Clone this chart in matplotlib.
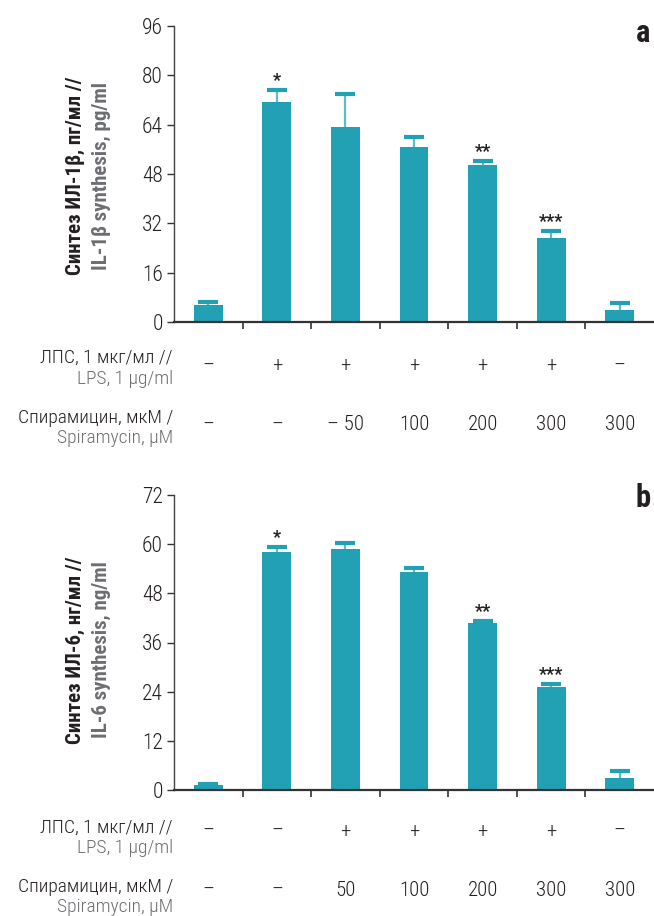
import matplotlib
matplotlib.use("Agg")
import matplotlib.pyplot as plt
import matplotlib.transforms as mtransforms
from matplotlib import font_manager
import numpy as np

# ---------------- data ----------------
groups = [1, 2, 3, 4, 5, 6, 7]
il1b_values = [5.5, 71.3, 63.2, 56.8, 50.9, 27.2, 3.9]
il1b_err = [1.1, 3.9, 10.6, 3.1, 1.2, 2.2, 2.2]
il6_values = [1.2, 58.1, 58.8, 53.2, 40.8, 25.1, 2.9]
il6_err = [0.3, 1.3, 1.4, 1.1, 0.4, 0.7, 1.7]

il1b_stars = ["", "*", "", "", "**", "***", ""]
il6_stars = ["", "*", "", "", "**", "***", ""]

top_lps = ["–", "+", "+", "+", "+", "+", "–"]
top_spi = ["–", "–", "– 50", "100", "200", "300", "300"]
bot_lps = ["–", "–", "+", "+", "+", "+", "–"]
bot_spi = ["–", "–", "50", "100", "200", "300", "300"]

top_yticks = [0, 16, 32, 48, 64, 80, 96]
bot_yticks = [0, 12, 24, 36, 48, 60, 72]

# ---------------- style ----------------
avail = {f.name for f in font_manager.fontManager.ttflist}
FONT = "DejaVu Sans"
for cand in ["Roboto Condensed", "Liberation Sans Narrow", "Open Sans Condensed", "Roboto", "Liberation Sans"]:
    if cand in avail:
        FONT = cand
        break
plt.rcParams["font.family"] = [FONT, "DejaVu Sans"]

BAR = "#22a0b4"
ERR = "#5cbccb"
BLACK = "#231f20"
GRAY = "#6d6e71"

W, H = 654, 916
fig = plt.figure(figsize=(W / 100, H / 100), dpi=100)


def fx(px):
    return px / W


def fy(py):
    return 1 - py / H


def panel(ax_rect, values, err, stars, yticks, ylab1, ylab2, letter, letter_xy,
          lps, spi, row_y, lab_y, ylab_cy):
    ax = fig.add_axes(ax_rect)
    x = np.arange(len(groups))
    ax.bar(x, values, width=0.42, color=BAR, zorder=2)
    eb = ax.errorbar(x, values, yerr=[np.zeros(len(err)), err], fmt="none",
                     ecolor=ERR, elinewidth=1.6, capsize=7, capthick=3, zorder=3)
    caps = eb[1]
    if len(caps) == 2:
        caps[0].set_visible(False)
        caps[1].set_markeredgecolor(BAR)
        caps[1].set_markerfacecolor(BAR)
    for xi, v, e, s in zip(x, values, err, stars):
        if s:
            ax.annotate(s, (xi, v + e), xytext=(0, 9), textcoords="offset pixels",
                        ha="center", va="center", fontsize=13, fontweight="bold",
                        color=BLACK)
    ax.set_xlim(-0.5, 6.5)
    ax.set_ylim(yticks[0], yticks[-1])
    ax.set_yticks(yticks)
    ax.set_yticklabels([str(t) for t in yticks], fontsize=15.5, color=BLACK,
                       fontweight="light")
    ax.set_xticks([])
    ax.set_xticks(np.arange(0.5, 6.0, 1.0), minor=True)
    ax.tick_params(axis="x", which="minor", direction="out", length=5, width=1.2,
                   color="#333333")
    ax.tick_params(axis="y", direction="out", length=5, width=1.0, color="#333333",
                   pad=3)
    for sp in ["top", "right"]:
        ax.spines[sp].set_visible(False)
    ax.spines["left"].set_color("#444444")
    ax.spines["left"].set_linewidth(1.0)
    ax.spines["bottom"].set_color("#333333")
    ax.spines["bottom"].set_linewidth(1.6)
    ax.spines["bottom"].set_zorder(4)

    # y labels
    fig.text(fx(75), fy(ylab_cy), ylab1, rotation=90, ha="center", va="center",
             fontsize=15, fontweight="bold", color=BLACK)
    fig.text(fx(101), fy(ylab_cy), ylab2, rotation=90, ha="center", va="center",
             fontsize=15, fontweight="bold", color=GRAY)
    # panel letter
    fig.text(fx(letter_xy[0]), fy(letter_xy[1]), letter, ha="center", va="center",
             fontsize=22, fontweight="bold", color=BLACK)

    # table rows
    tr = mtransforms.blended_transform_factory(ax.transData, fig.transFigure)
    for xi, s in zip(x, lps):
        ax.text(xi, fy(row_y[0]), s, transform=tr, ha="center", va="center",
                fontsize=15, color=BLACK, fontweight="light", clip_on=False)
    for xi, s in zip(x, spi):
        ax.text(xi, fy(row_y[1]), s, transform=tr, ha="center", va="center",
                fontsize=15, color=BLACK, fontweight="light", clip_on=False)
    kw = dict(ha="right", va="center", fontsize=14, fontweight="light")
    fig.text(fx(173), fy(lab_y[0]), "ЛПС, 1 мкг/мл //", color=BLACK, **kw)
    fig.text(fx(173), fy(lab_y[1]), "LPS, 1 µg/ml", color=GRAY, **kw)
    fig.text(fx(173), fy(lab_y[2]), "Спирамицин, мкМ /", color=BLACK, **kw)
    fig.text(fx(173), fy(lab_y[3]), "Spiramycin, µM", color=GRAY, **kw)
    return ax


panel([fx(174), fy(322), 1 - fx(174), (322 - 26) / H],
      il1b_values, il1b_err, il1b_stars, top_yticks,
      "Синтез ИЛ-1β, пг/мл //", "IL-1β synthesis, pg/ml", "a", (643, 33),
      top_lps, top_spi, (366, 425), (358, 379, 418, 438), 176)

panel([fx(174), fy(790), 1 - fx(174), (790 - 495) / H],
      il6_values, il6_err, il6_stars, bot_yticks,
      "Синтез ИЛ-6, нг/мл //", "IL-6 synthesis, ng/ml", "b", (643, 498),
      bot_lps, bot_spi, (831, 890), (828, 848, 887, 907), 650)

fig.savefig("out.png", dpi=100)
